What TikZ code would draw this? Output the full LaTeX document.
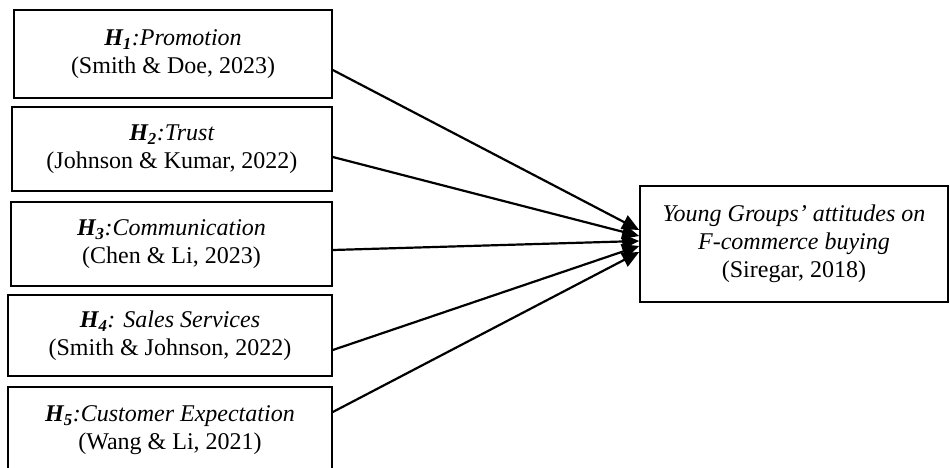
\documentclass[tikz,border=0pt]{standalone}
\usepackage{fontspec}
\setmainfont{Liberation Serif}
\usetikzlibrary{arrows.meta}
\newcommand{\hyp}[1]{\textbf{\textit{H\textsubscript{#1}}}}
\begin{document}
\begin{tikzpicture}[x=1pt,y=-1pt,
  hbox/.style={draw, line width=1.6pt, align=center, inner sep=0pt,
    font=\fontsize{24}{28}\selectfont},
  link/.style={line width=2.2pt, -{Triangle[length=17pt,width=15pt]}}]
\useasboundingbox (0,0) rectangle (950,468);
\node[hbox, minimum width=318pt, minimum height=88pt] (b1) at (173,54)
  {\hyp{1}\textit{:Promotion}\\(Smith \& Doe, 2023)};
\node[hbox, minimum width=320pt, minimum height=84pt] (b2) at (172,149)
  {\hyp{2}\textit{:Trust}\\(Johnson \& Kumar, 2022)};
\node[hbox, minimum width=321pt, minimum height=84pt] (b3) at (171.5,244)
  {\hyp{3}\textit{:Communication}\\(Chen \& Li, 2023)};
\node[hbox, minimum width=324pt, minimum height=81pt] (b4) at (170,335.5)
  {\hyp{4}\textit{: Sales Services}\\(Smith \& Johnson, 2022)};
\node[hbox, minimum width=324pt, minimum height=86pt] (b5) at (170,430)
  {\hyp{5}\textit{:Customer Expectation}\\(Wang \& Li, 2021)};
\node[hbox, minimum width=308pt, minimum height=116pt] (rb) at (794,244)
  {\textit{Young Groups’ attitudes on}\\\textit{F-commerce buying}\\(Siregar, 2018)};
\draw[link] ([yshift=-16pt]b1.east) -- ([yshift=14pt]rb.west);
\draw[link] ([yshift=-8pt]b2.east) -- ([yshift=8pt]rb.west);
\draw[link] ([yshift=-6pt]b3.east) -- ([yshift=3pt]rb.west);
\draw[link] ([yshift=-14.5pt]b4.east) -- ([yshift=-2pt]rb.west);
\draw[link] ([yshift=18pt]b5.east) -- ([yshift=-8pt]rb.west);
\end{tikzpicture}
\end{document}
